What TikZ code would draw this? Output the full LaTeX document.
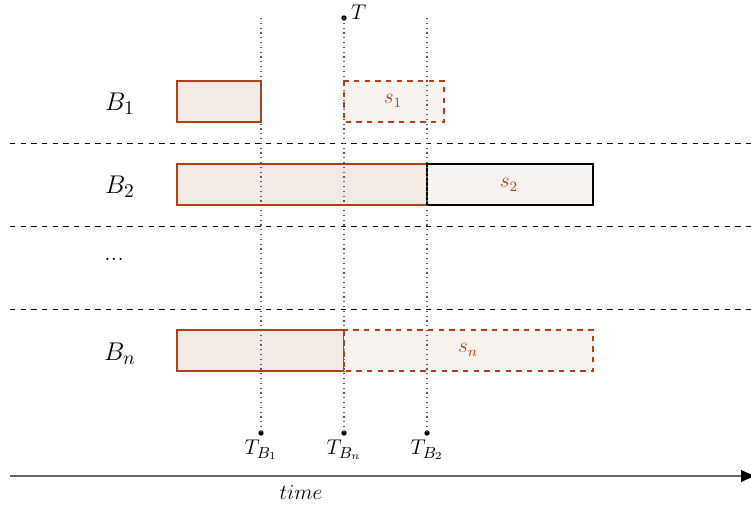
\documentclass[tikz,border=0pt]{standalone}
\usetikzlibrary{arrows.meta}
\definecolor{rust}{RGB}{178,64,20}
\definecolor{busyfill}{RGB}{243,233,228}
\definecolor{slackfill}{RGB}{249,243,240}
\tikzset{
  busy/.style={draw=rust, fill=busyfill, line width=0.6pt},
  slack/.style={draw=rust, fill=slackfill, dashed, line width=0.6pt},
  donebox/.style={draw=black, fill=slackfill, line width=0.6pt},
  slacklabel/.style={text=rust, font=\fontsize{12}{14}\selectfont, inner sep=1pt},
  rowlabel/.style={font=\fontsize{15}{17}\selectfont, inner sep=1pt},
  marker/.style={draw=black!65, dotted, line width=0.7pt},
  separator/.style={dashed, line width=0.5pt},
  tick/.style={circle, fill=black, inner sep=0pt, minimum size=3pt},
  ticklabel/.style={font=\fontsize{13}{15}\selectfont, inner sep=1pt},
}
\begin{document}
\begin{tikzpicture}[x=0.5625pt, y=-0.5625pt]
\useasboundingbox (0,0) rectangle (751,508);

% row separators
\coordinate (sepA1) at (10,143);  \coordinate (sepA2) at (751,143);
\coordinate (sepB1) at (10,226);  \coordinate (sepB2) at (751,226);
\coordinate (sepC1) at (10,309);  \coordinate (sepC2) at (751,309);
\draw[separator] (sepA1) -- (sepA2);
\draw[separator] (sepB1) -- (sepB2);
\draw[separator] (sepC1) -- (sepC2);

% row labels
\node[rowlabel] (b1) at (120,104) {$B_1$};
\node[rowlabel] (b2) at (120,187) {$B_2$};
\node[rowlabel] (bdots) at (114,259) {...};
\node[rowlabel] (bn) at (120,354) {$B_n$};

% busy intervals and slack
\draw[busy] (177,81) rectangle (261,122);
\draw[slack] (344,81) rectangle (444,122);
\node[slacklabel] (s1) at (393,101) {$s_1$};

\draw[busy] (177,164) rectangle (427,205);
\draw[donebox] (427,164) rectangle (593,205);
\node[slacklabel] (s2) at (509,185) {$s_2$};

\draw[busy] (177,330) rectangle (344,371);
\draw[slack] (344,330) rectangle (593,371);
\node[slacklabel] (sn) at (468,350) {$s_n$};

% time markers
\coordinate (tb1top) at (261,18);
\coordinate (ttop) at (344,18);
\coordinate (tb2top) at (427,18);
\node[tick] (tb1) at (261,433) {};
\node[tick] (tbn) at (344,433) {};
\node[tick] (tb2) at (427,433) {};
\node[tick] (t) at (344,18) {};
\draw[marker] (tb1top) -- (tb1.center);
\draw[marker] (ttop) -- (tbn.center);
\draw[marker] (tb2top) -- (tb2.center);

\node[font=\fontsize{12}{14}\selectfont, inner sep=1pt, anchor=south west] (tlab) at (349,22) {$T$};
\node[ticklabel] (tb1lab) at (261,450) {$T_{B_1}$};
\node[ticklabel] (tbnlab) at (344,450) {$T_{B_n}$};
\node[ticklabel] (tb2lab) at (427,450) {$T_{B_2}$};

% time axis
\coordinate (axs) at (10,476);
\coordinate (axe) at (757,476);
\draw[draw=black!60, line width=0.7pt, -{Latex[black,length=9pt,width=7pt]}] (axs) -- (axe);
\node[ticklabel] (timelab) at (301,493) {$time$};
\end{tikzpicture}
\end{document}
